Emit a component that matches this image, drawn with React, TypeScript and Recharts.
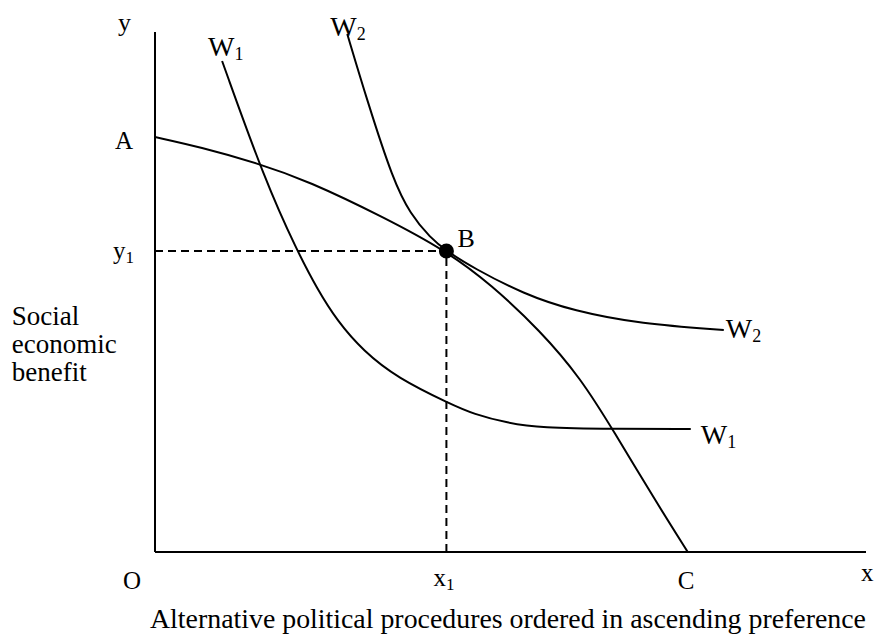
import React from 'react';
import { LineChart, Line, XAxis, YAxis, ReferenceDot, ReferenceLine } from 'recharts';

// curves, in units measured from the origin O
const frontierAC = [
  { x: 0, y: 415 }, { x: 45, y: 405 }, { x: 102, y: 389 }, { x: 153, y: 371 },
  { x: 228, y: 335 }, { x: 291, y: 301 }, { x: 335, y: 268 }, { x: 385, y: 221 },
  { x: 425, y: 174 }, { x: 458, y: 121 }, { x: 498, y: 54 }, { x: 532, y: 0 },
];

const curveW1 = [
  { x: 67, y: 491 }, { x: 110, y: 371 }, { x: 142, y: 301 }, { x: 162, y: 263 },
  { x: 182, y: 231 }, { x: 208, y: 201 }, { x: 242, y: 174 }, { x: 295, y: 148 },
  { x: 318, y: 138 }, { x: 352, y: 129 }, { x: 385, y: 124 }, { x: 458, y: 123 },
  { x: 535, y: 123 },
];

const curveW2 = [
  { x: 192, y: 518 }, { x: 212, y: 451 }, { x: 238, y: 371 }, { x: 255, y: 338 },
  { x: 275, y: 314 }, { x: 291, y: 301 }, { x: 318, y: 284 }, { x: 368, y: 258 },
  { x: 418, y: 241 }, { x: 485, y: 228 }, { x: 568, y: 222 },
];

const pointB = { x: 291, y: 301 };

const dashH = [{ x: 0, y: pointB.y }, { x: pointB.x, y: pointB.y }];
const dashV = [{ x: pointB.x, y: 0 }, { x: pointB.x, y: pointB.y }];

// text labels: left edge x and baseline y
const labels = [
  { text: 'y', sub: '', x: -37, y: 521, size: 26 },
  { text: 'W', sub: '1', x: 53, y: 496, size: 28 },
  { text: 'W', sub: '2', x: 175, y: 516, size: 28 },
  { text: 'A', sub: '', x: -40, y: 403, size: 25 },
  { text: 'y', sub: '1', x: -42, y: 293, size: 25 },
  { text: 'B', sub: '', x: 302, y: 305, size: 26 },
  { text: 'W', sub: '2', x: 570, y: 214, size: 28 },
  { text: 'W', sub: '1', x: 545, y: 108, size: 28 },
  { text: 'O', sub: '', x: -32, y: -37, size: 25 },
  { text: 'x', sub: '1', x: 278, y: -34, size: 25 },
  { text: 'C', sub: '', x: 522, y: -37, size: 25 },
  { text: 'x', sub: '', x: 705, y: -29, size: 25 },
];

const caption = 'Alternative political procedures ordered in ascending preference';
const captionAt = { x: -5, y: -76, width: 716 };

const yTitle = ['Social', 'economic', 'benefit'];
const yTitleAt = { x: -143, y: 227 };

const font = "'Liberation Serif', 'Times New Roman', Times, Tinos, 'DejaVu Serif', 'Noto Serif', serif";

function LabelText(props: any) {
  const { cx, cy, item } = props;
  return (
    <text x={cx} y={cy} fontFamily={font} style={{ fontFamily: font, fontSize: item.size }} fill="#000">
      {item.text}
      {item.sub ? (
        <tspan style={{ fontSize: Math.round(item.size * 0.66) }} dy={4}>{item.sub}</tspan>
      ) : null}
    </text>
  );
}

function CaptionText(props: any) {
  const { cx, cy } = props;
  return (
    <text
      x={cx}
      y={cy}
      fontFamily={font}
      style={{ fontFamily: font, fontSize: 27 }}
      textLength={captionAt.width}
      lengthAdjust="spacingAndGlyphs"
      fill="#000"
    >
      {caption}
    </text>
  );
}

function TitleText(props: any) {
  const { cx, cy } = props;
  return (
    <text x={cx} y={cy} fontFamily={font} style={{ fontFamily: font, fontSize: 27 }} fill="#000">
      {yTitle.map((t, i) => (
        <tspan key={t} x={cx} dy={i === 0 ? 0 : 28}>{t}</tspan>
      ))}
    </text>
  );
}

export default function App() {
  return (
    <div style={{ position: 'absolute', left: 0, top: 0, background: '#fff', fontFamily: font }}>
      <LineChart
        width={875}
        height={635}
        margin={{ top: 32, right: 9, left: 155, bottom: 83 }}
      >
        <XAxis type="number" dataKey="x" domain={[0, 710]} allowDataOverflow hide />
        <YAxis type="number" dataKey="y" domain={[0, 520]} allowDataOverflow hide />
        <ReferenceLine y={0} stroke="#000" strokeWidth={2} />
        <ReferenceLine x={0} stroke="#000" strokeWidth={2} />
        <Line data={dashH} dataKey="y" type="linear" stroke="#000" strokeWidth={2} strokeDasharray="8 5" dot={false} isAnimationActive={false} />
        <Line data={dashV} dataKey="y" type="linear" stroke="#000" strokeWidth={2} strokeDasharray="8 5" dot={false} isAnimationActive={false} />
        <Line data={frontierAC} dataKey="y" type="basis" stroke="#000" strokeWidth={2} dot={false} isAnimationActive={false} />
        <Line data={curveW1} dataKey="y" type="basis" stroke="#000" strokeWidth={2} dot={false} isAnimationActive={false} />
        <Line data={curveW2} dataKey="y" type="basis" stroke="#000" strokeWidth={2} dot={false} isAnimationActive={false} />
        <ReferenceDot x={pointB.x} y={pointB.y} r={7.5} fill="#000" stroke="none" ifOverflow="visible" />
        {labels.map((l, i) => (
          <ReferenceDot
            key={i}
            x={l.x}
            y={l.y}
            r={0}
            ifOverflow="visible"
            shape={(p: any) => <LabelText {...p} item={l} />}
          />
        ))}
        <ReferenceDot
          x={captionAt.x}
          y={captionAt.y}
          r={0}
          ifOverflow="visible"
          shape={(p: any) => <CaptionText {...p} />}
        />
        <ReferenceDot
          x={yTitleAt.x}
          y={yTitleAt.y}
          r={0}
          ifOverflow="visible"
          shape={(p: any) => <TitleText {...p} />}
        />
      </LineChart>
    </div>
  );
}
